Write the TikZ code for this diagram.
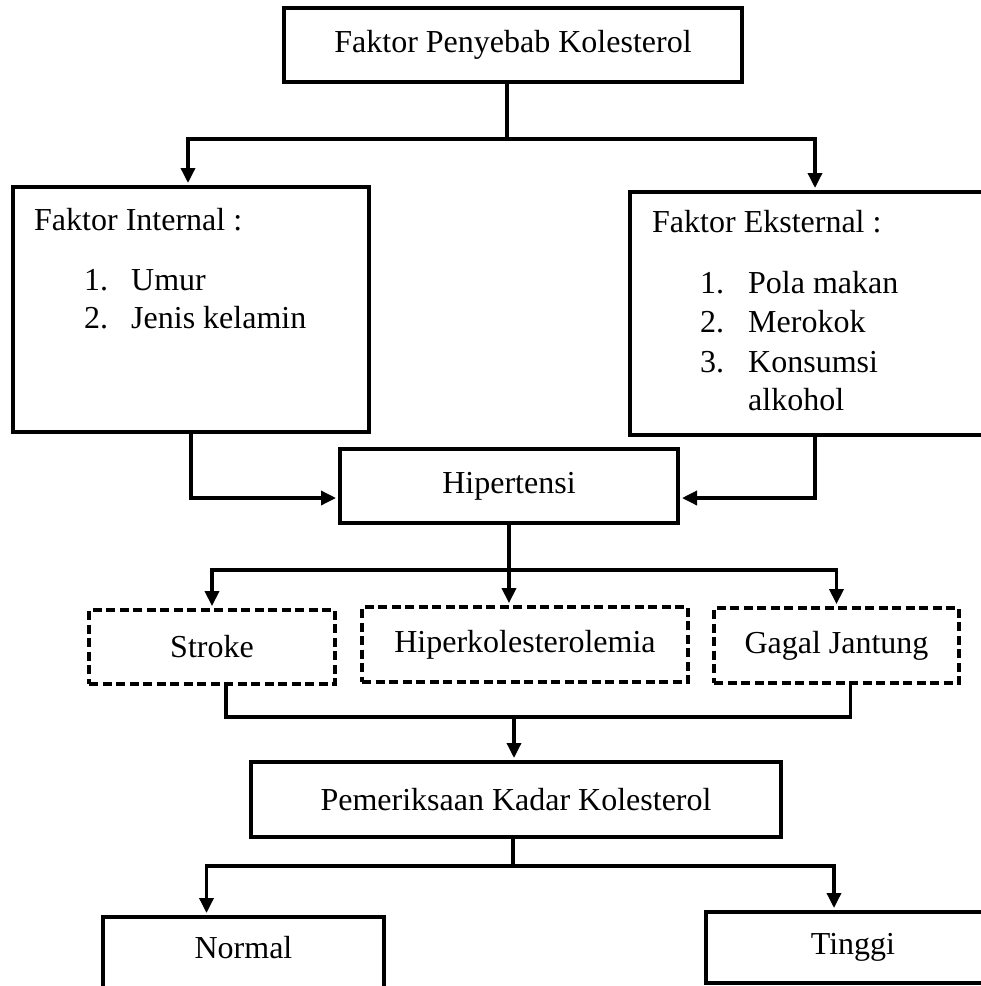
\documentclass[tikz,border=0pt]{standalone}
\usepackage{fontspec}
\setmainfont{Liberation Serif}
\usetikzlibrary{arrows.meta,calc}
\tikzset{
  box/.style={draw, line width=4pt, inner sep=0pt, align=center, font=\fontsize{32}{39}\selectfont},
  dbox/.style={box, dash pattern=on 9pt off 4.5pt, line width=3.8pt},
  txt/.style={anchor=base west, inner sep=0pt, font=\fontsize{32}{39}\selectfont},
  conn/.style={line width=3.4pt},
  arr/.style={conn, -{Triangle[length=15pt,width=14pt]}, shorten >=2pt},
}
\begin{document}
\begin{tikzpicture}[x=1pt,y=-1pt]
\clip (0,0) rectangle (981,986);
\fill[white] (0,0) rectangle (981,986);
% boxes
\node[box, minimum width=458pt, minimum height=74pt] (top) at (513,45) {Faktor Penyebab Kolesterol};
\node[box, minimum width=356pt, minimum height=245pt] (int) at (191,309.5) {};
\node[box, minimum width=370pt, minimum height=243pt] (ext) at (815,313.5) {};
\node[box, minimum width=338pt, minimum height=74pt] (hip) at (509,486) {Hipertensi};
\node[dbox, minimum width=246pt, minimum height=74pt] (stroke) at (212,647) {Stroke};
\node[dbox, minimum width=326pt, minimum height=75pt] (hyper) at (525,644.5) {Hiperkolesterolemia};
\node[dbox, minimum width=245pt, minimum height=75pt] (gagal) at (836.5,645.5) {Gagal Jantung};
\node[box, minimum width=530pt, minimum height=75pt] (pem) at (516,799.5) {Pemeriksaan Kadar Kolesterol};
\node[box, minimum width=281pt, minimum height=93pt, text depth=32pt] (normal) at (243.5,963.5) {Normal};
\node[box, minimum width=294pt, minimum height=71pt] (tinggi) at (853,947.5) {Tinggi};
% list texts
\node[txt] (intT) at (34,230) {Faktor Internal :};
\node[txt] (intN1) at (84,290) {1.};
\node[txt] (intI1) at (131,290) {Umur};
\node[txt] (intN2) at (84,328) {2.};
\node[txt] (intI2) at (131,328) {Jenis kelamin};
\node[txt] (extT) at (652,232) {Faktor Eksternal :};
\node[txt] (extN1) at (700,293) {1.};
\node[txt] (extI1) at (748,293) {Pola makan};
\node[txt] (extN2) at (700,332) {2.};
\node[txt] (extI2) at (748,332) {Merokok};
\node[txt] (extN3) at (700,372) {3.};
\node[txt] (extI3) at (748,372) {Konsumsi};
\node[txt] (extI4) at (748,410) {alkohol};
% connectors
\draw[conn] ([xshift=-6pt]top.south) -- ++(0,55) coordinate (j1);
\draw[arr] (j1) -| ([xshift=-3pt]int.north);
\draw[arr] (j1) -| (ext.north);
\draw[arr] (int.south) |- ([yshift=-12pt]hip.west);
\draw[arr] (ext.south) |- ([yshift=-12pt]hip.east);
\draw[conn] (hip.south) -- ++(0,45) coordinate (j2);
\draw[arr] (j2) -| (stroke.north);
\draw[arr] (j2) -| (gagal.north);
\draw[arr] (j2) -- (j2 |- hyper.north);
\coordinate (j3) at (514,717);
\draw[conn] ([xshift=14pt]stroke.south) |- (j3) -| ([xshift=14pt]gagal.south);
\draw[arr] (j3) -- (j3 |- pem.north);
\draw[conn] ([xshift=-3pt]pem.south) -- ++(0,27) coordinate (j4);
\draw[arr] (j4) -| ([xshift=-37pt]normal.north);
\draw[arr] (j4) -| ([xshift=-19pt]tinggi.north);
\end{tikzpicture}
\end{document}
